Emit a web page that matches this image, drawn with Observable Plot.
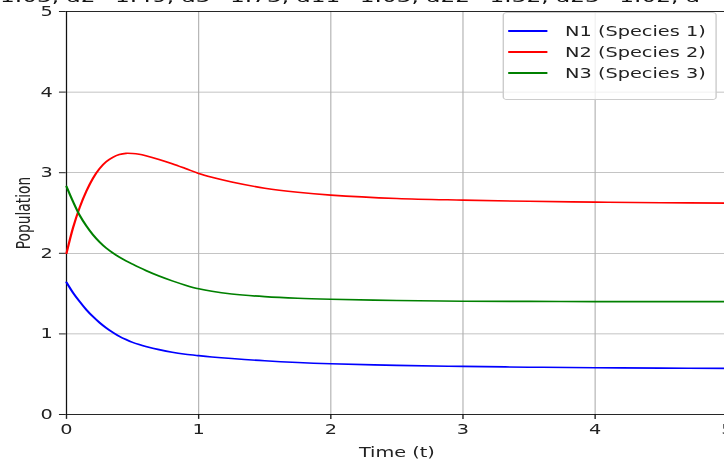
<!DOCTYPE html>
<html>
<head>
<meta charset="utf-8">
<script src="https://cdn.jsdelivr.net/npm/d3@7"></script>
<script src="https://cdn.jsdelivr.net/npm/@observablehq/plot@0.6"></script>
<style>
  html, body { margin: 0; padding: 0; background: #fff; overflow: hidden; }
  #wrap { position: relative; width: 517px; height: 465px; transform: scaleX(1.4); transform-origin: 0 0;
          font-family: "DejaVu Sans", sans-serif; }
  #title { position: absolute; top: -12.75px; white-space: nowrap; font-size: 16.6px; line-height: 20px; color: #111; }
  #legend { position: absolute; left: 358.6px; top: 12px; width: 151px; height: 78px;
            border: 1px solid #cccccc; border-radius: 3px; background: rgba(255,255,255,0.8);
            padding-top: 7.5px; box-sizing: content-box; font-size: 13.8px; color: #222; }
  .row { height: 21px; display: flex; align-items: center; }
  .sw { width: 28.5px; height: 0; border-top: 2px solid; margin-left: 3.3px; margin-right: 12.2px; }
</style>
</head>
<body>
<div id="wrap">
  <div id="title"><span id="pre">a1=</span>1.03, a2=1.49, a3=1.73, a11=1.03, a22=1.32, a23=1.02, a</div>
  <div id="chart"></div>
  <div id="legend"></div>
</div>
<script>
const t  = [0,0.05,0.1,0.15,0.2,0.25,0.3,0.35,0.4,0.45,0.5,0.55,0.6,0.7,0.8,0.9,1.0,1.1,1.25,1.5,1.75,2.0,2.5,3.0,3.5,4.0,4.5,5.0];
const N1 = [1.64,1.51,1.40,1.30,1.215,1.14,1.075,1.02,0.97,0.93,0.895,0.868,0.845,0.805,0.772,0.748,0.73,0.714,0.694,0.666,0.645,0.63,0.61,0.597,0.587,0.58,0.575,0.572];
const N2 = [2.00,2.32,2.57,2.77,2.93,3.05,3.135,3.19,3.225,3.24,3.238,3.228,3.21,3.165,3.112,3.052,2.99,2.943,2.885,2.808,2.757,2.722,2.68,2.66,2.645,2.635,2.628,2.623];
const N3 = [2.83,2.64,2.47,2.34,2.23,2.14,2.065,2.005,1.952,1.906,1.865,1.825,1.787,1.718,1.658,1.605,1.56,1.528,1.495,1.462,1.442,1.43,1.414,1.406,1.403,1.401,1.40,1.40];
const seriesNames = ["N1 (Species 1)", "N2 (Species 2)", "N3 (Species 3)"];
const seriesColors = ["#0000ff", "#ff0000", "#008000"];
const xTicks = [0,1,2,3,4,5];
const yTicks = [0,1,2,3,4,5];

const seriesValues = [N1, N2, N3];
const data = seriesValues.flatMap((vals, i) => vals.map((v, j) => ({t: t[j], v, s: seriesNames[i]})));

const chart = Plot.plot({
  width: 517,
  height: 465,
  marginLeft: 47,
  marginRight: -2,
  marginTop: 11,
  marginBottom: 51,
  style: { fontFamily: "DejaVu Sans, sans-serif", fontSize: "13.8px", color: "#222", background: "transparent", overflow: "visible" },
  x: { domain: [0, 5], ticks: xTicks, tickFormat: d3.format("d"), tickSize: 4.9, tickPadding: 4.9, label: "Time (t)", labelAnchor: "center", labelArrow: "none", labelOffset: 42 },
  y: { domain: [0, 5], ticks: yTicks, tickFormat: d3.format("d"), tickSize: 4.9, tickPadding: 4.9, label: "Population", labelAnchor: "center", labelArrow: "none", labelOffset: 36 },
  color: { domain: seriesNames, range: seriesColors },
  marks: [
    Plot.gridX(xTicks.slice(1, 5), { stroke: "#b0b0b0", strokeOpacity: 1, strokeWidth: 0.8 }),
    Plot.gridY(yTicks.slice(1, 5), { stroke: "#b0b0b0", strokeOpacity: 1, strokeWidth: 0.8 }),
    Plot.frame({ stroke: "#111", strokeWidth: 0.9 }),
    Plot.line(data, { x: "t", y: "v", z: "s", stroke: "s", strokeWidth: 1.6, curve: "catmull-rom" })
  ]
});
document.getElementById("chart").appendChild(chart);

// legend
const lg = document.getElementById("legend");
seriesNames.forEach((n, i) => {
  const r = document.createElement("div");
  r.className = "row";
  const sw = document.createElement("div");
  sw.className = "sw";
  sw.style.borderTopColor = seriesColors[i];
  const tx = document.createElement("span");
  tx.textContent = n;
  r.appendChild(sw); r.appendChild(tx);
  lg.appendChild(r);
});

// title: shift so the hidden prefix sits left of the window
const pre = document.getElementById("pre");
const title = document.getElementById("title");
title.style.left = (-pre.getBoundingClientRect().width / 1.4) + "px";
</script>
</body>
</html>
